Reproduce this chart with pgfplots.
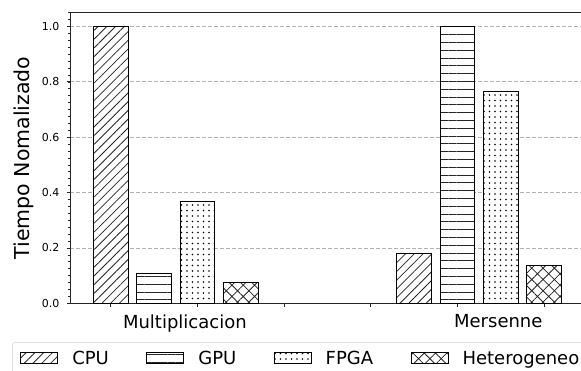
\documentclass[border=0pt]{standalone}
\usepackage{pgfplots}
\pgfplotsset{compat=1.18}
\usepackage{fontspec}
\setmainfont{DejaVu Sans}
\usetikzlibrary{patterns.meta}
\begin{document}
\begin{tikzpicture}[x=1pt,y=1pt]
\path[use as bounding box] (0,0) rectangle (581,370);
\begin{axis}[
  at={(70pt,66.7pt)}, anchor=south west,
  scale only axis, width=515pt, height=290.6pt,
  xmin=-0.47, xmax=5.47, ymin=0, ymax=1.05,
  /pgf/number format/assume math mode=true,
  /pgf/number format/fixed, /pgf/number format/fixed zerofill,
  /pgf/number format/precision=1,
  xtick={0,1,2,3,4,5}, xticklabels={,,,,,},
  extra x ticks={0.855,4.47},
  extra x tick labels={Multiplicacion,Mersenne},
  extra x tick style={major tick length=0pt, grid=none,
     xticklabel style={font=\fontsize{18}{20}\selectfont, inner sep=0pt, yshift=-11.2pt}},
  ytick={0,0.2,0.4,0.6,0.8,1.0},
  yminorticks=true,
  minor ytick={0,0.025,...,1.05},
  yticklabel style={font=\fontsize{11}{13}\selectfont, inner sep=0pt, xshift=-7pt},
  tick align=outside,
  xtick pos=bottom, ytick pos=left,
  major tick length=3.5pt, minor tick length=2.2pt,
  tick style={black!85, line width=0.8pt},
  minor tick style={black!85, line width=0.7pt},
  axis line style={black!85, line width=0.9pt},
  ymajorgrids,
  major grid style={gray!60, line width=0.8pt, dash pattern=on 4pt off 2pt},
  ylabel={Tiempo Nomalizado},
  every axis y label/.style={at={(axis description cs:-0.0893,0.5)}, rotate=90, anchor=center, font=\fontsize{20.5}{22}\selectfont, inner sep=0pt},
  bar width=0.4,
  legend columns=4,
  legend cell align=left,
  legend style={at={(axis description cs:-0.1126,-0.1332)}, anchor=north west,
     draw=black!12, line width=0.8pt, rounded corners=3pt, fill=white,
     inner xsep=8pt, inner ysep=2.75pt,
     font=\fontsize{18}{20}\selectfont,
     nodes={text height=13.5pt, text depth=0pt, inner sep=6pt, anchor=west},
     /tikz/every odd column/.append style={column sep=8pt},
     /tikz/every even column/.append style={column sep=31.5pt}},
  legend image code/.code={\draw[#1, sharp corners] (0pt,-5.5pt) rectangle (37pt,5.5pt);},
]
\addplot[ybar, bar shift=0pt, draw=black, line width=0.9pt, fill=white,
  postaction={pattern={Lines[angle=45,distance=6.2pt,line width=0.8pt]}, pattern color=black!85}]
  coordinates {(0,1.0) (3.5,0.18)};
\addlegendentry{CPU}
\addplot[ybar, bar shift=0pt, draw=black, line width=0.9pt, fill=white,
  postaction={pattern={Lines[angle=0,distance=7.8pt,line width=0.8pt]}, pattern color=black!85}]
  coordinates {(0.5,0.109) (4,1.0)};
\addlegendentry{GPU}
\addplot[ybar, bar shift=0pt, draw=black, line width=0.9pt, fill=white,
  postaction={pattern={Dots[distance=5.5pt,radius=0.95pt]}, pattern color=black}]
  coordinates {(1,0.367) (4.5,0.766)};
\addlegendentry{FPGA}
\addplot[ybar, bar shift=0pt, draw=black, line width=0.9pt, fill=white,
  postaction={pattern={Hatch[angle=45,distance=8pt,line width=0.8pt]}, pattern color=black!85}]
  coordinates {(1.5,0.075) (5,0.135)};
\addlegendentry{Heterogeneo}
\end{axis}
\end{tikzpicture}
\end{document}
